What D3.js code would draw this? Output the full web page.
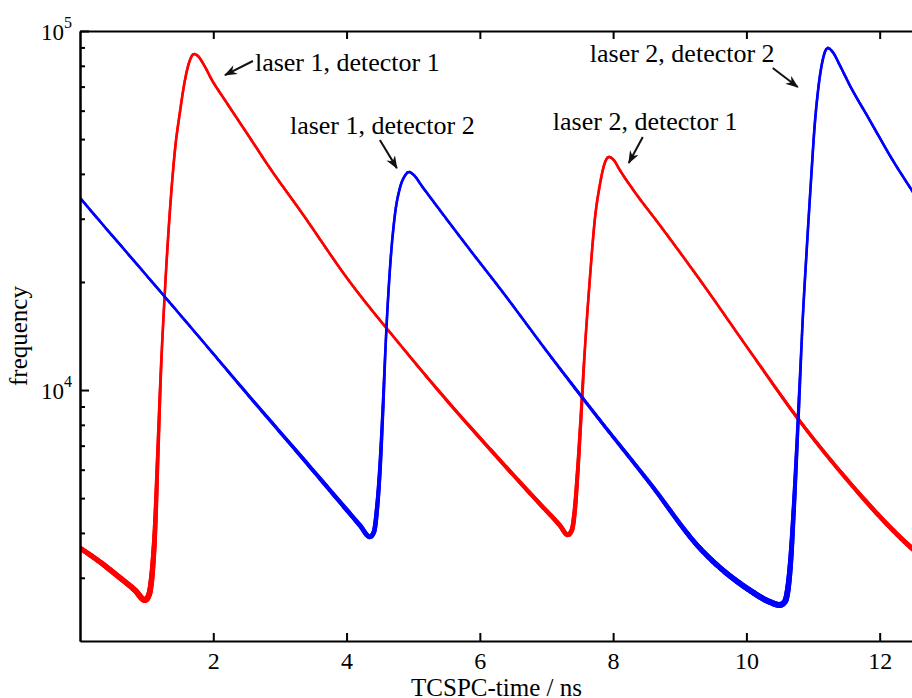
<!DOCTYPE html>
<html>
<head>
<meta charset="utf-8">
<script src="https://cdn.jsdelivr.net/npm/d3@7/dist/d3.min.js"></script>
<style>
  body { margin: 0; background: #fff; }
  svg { display: block; font-family: "Liberation Serif", "Times New Roman", serif; }
</style>
</head>
<body>
<svg id="chart" width="912" height="698"></svg>
<script>
// TCSPC histogram (time in ns, counts)
var redTime = [0, 0.3, 0.6, 0.825, 0.975, 1.035, 1.08, 1.125, 1.17, 1.215, 1.275, 1.35, 1.425, 1.5, 1.575, 1.65, 1.71, 1.77, 1.86, 1.98, 2.175, 2.55, 2.85, 3.3, 4.05, 4.8, 5.55, 6.3, 6.9, 7.2, 7.32, 7.38, 7.425, 7.47, 7.515, 7.575, 7.65, 7.725, 7.8, 7.875, 7.935, 8.01, 8.1, 8.325, 8.7, 9.3, 10.05, 10.8, 11.55, 12.3, 12.5];
var redCounts = [3630, 3320, 3000, 2770, 2600, 2690, 3050, 4070, 6800, 11400, 19000, 31700, 46600, 59500, 73000, 83000, 86300, 85200, 80400, 73000, 64200, 50400, 41500, 31700, 20000, 13400, 9150, 6380, 4820, 4200, 3950, 4070, 4630, 5990, 8250, 12900, 20300, 29800, 37200, 42900, 44600, 43700, 41000, 35600, 28800, 20300, 12850, 8200, 5520, 3900, 3600];

var blueTime = [0, 0.3, 0.75, 1.8, 2.55, 3.3, 3.9, 4.2, 4.35, 4.41, 4.455, 4.5, 4.545, 4.59, 4.65, 4.725, 4.8, 4.875, 4.935, 5.01, 5.13, 5.4, 5.85, 6.3, 7.05, 7.8, 8.55, 9.3, 10.05, 10.35, 10.5, 10.575, 10.62, 10.665, 10.71, 10.755, 10.8, 10.845, 10.905, 10.965, 11.025, 11.085, 11.145, 11.22, 11.295, 11.4, 11.55, 11.85, 12.15, 12.5];
var blueCounts = [34300, 29500, 23600, 13960, 9560, 6590, 4880, 4200, 3900, 4020, 4630, 5990, 8800, 13800, 21600, 30700, 36500, 39500, 40500, 39700, 37000, 31700, 24600, 19200, 12500, 8250, 5510, 3630, 2770, 2570, 2520, 2570, 2770, 3360, 4630, 6800, 10300, 15700, 24600, 37200, 54700, 70700, 83000, 89700, 87400, 80400, 70700, 56500, 45100, 35600];

var xTicks = [2, 4, 6, 8, 10, 12];
var yMajor = [1e4, 1e5];
var yMinor = [3000, 4000, 5000, 6000, 7000, 8000, 9000, 20000, 30000, 40000, 50000, 60000, 70000, 80000, 90000];

var annotations = [
    {label: "laser 1, detector 1", t: 2.625, v: 77400, from: [2.595, 82500], to: [2.175, 75400]},
    {label: "laser 1, detector 2", t: 3.15, v: 51700, from: [4.5, 49700], to: [4.755, 41500]},
    {label: "laser 2, detector 1", t: 7.095, v: 53000, from: [8.445, 50700], to: [8.235, 42900]},
    {label: "laser 2, detector 2", t: 7.65, v: 81950, from: [10.395, 78850], to: [10.77, 69800]}
];

(function() {
    var plotLeft = 80, plotTop = 31, plotRight = 913, plotBottom = 641;

    var svg = d3.select("#chart");

    var x = d3.scaleLinear().domain([0, 12.5]).range([plotLeft, plotRight]);
    var y = d3.scaleLog().domain([2000, 1e5]).range([plotBottom, plotTop]);

    var defs = svg.append("defs");
    defs.append("clipPath").attr("id", "plot")
        .append("rect").attr("x", plotLeft).attr("y", plotTop)
        .attr("width", plotRight - plotLeft).attr("height", plotBottom - plotTop);

    defs.append("marker")
        .attr("id", "head")
        .attr("viewBox", "0 0 13 10")
        .attr("refX", 12).attr("refY", 5)
        .attr("markerWidth", 13).attr("markerHeight", 10)
        .attr("markerUnits", "userSpaceOnUse")
        .attr("orient", "auto")
        .append("path")
        .attr("d", "M0,0 L13,5 L0,10 L4,5 Z")
        .attr("fill", "#111");

    // noisy data looks thicker at low counts
    var bandWidth = function(v) { return Math.max(2.6, 300 / Math.sqrt(v)); };

    var line = d3.line()
        .x(function(d) { return x(d[0]); })
        .y(function(d) { return y(d[1]); })
        .curve(d3.curveMonotoneX);

    var drawSeries = function(times, counts, color) {
        var pts = times.map(function(t, i) { return [t, counts[i]]; });
        // smooth path, then walk along it so the width can follow the counts
        var guide = svg.append("path").attr("d", line(pts)).attr("fill", "none").attr("stroke", "none");
        var node = guide.node();
        var len = node.getTotalLength();
        var samples = [];
        for (var s = 0; s <= len; s += 2) {
            var p = node.getPointAtLength(s);
            samples.push([p.x, p.y]);
        }
        var end = node.getPointAtLength(len);
        samples.push([end.x, end.y]);
        guide.remove();

        svg.append("g")
            .attr("clip-path", "url(#plot)")
            .selectAll("line")
            .data(d3.pairs(samples))
            .enter().append("line")
            .attr("x1", function(d) { return d[0][0]; })
            .attr("y1", function(d) { return d[0][1]; })
            .attr("x2", function(d) { return d[1][0]; })
            .attr("y2", function(d) { return d[1][1]; })
            .attr("stroke", color)
            .attr("stroke-linecap", "round")
            .attr("stroke-width", function(d) { return bandWidth(y.invert((d[0][1] + d[1][1]) / 2)); });
    };

    drawSeries(redTime, redCounts, "#ff0000");
    drawSeries(blueTime, blueCounts, "#0000ff");

    // axes, ticks pointing inward
    var styleAxis = function(g) {
        g.selectAll("path").attr("stroke", "#000").attr("stroke-width", 2);
        g.selectAll("line").attr("stroke", "#000").attr("stroke-width", 2);
    };

    svg.append("g")
        .attr("transform", "translate(0," + plotBottom + ")")
        .call(d3.axisBottom(x).tickValues(xTicks).tickSizeInner(-8).tickSizeOuter(0).tickPadding(11)
            .tickFormat(d3.format("d")))
        .call(styleAxis)
        .call(function(g) {
            g.attr("font-family", null);
            g.selectAll("text").attr("font-size", 24).attr("fill", "#000");
        });

    svg.append("g")
        .attr("transform", "translate(0," + plotTop + ")")
        .call(d3.axisTop(x).tickValues(xTicks).tickSizeInner(-8).tickSizeOuter(0).tickFormat(""))
        .call(styleAxis);

    svg.append("g")
        .attr("transform", "translate(" + plotLeft + ",0)")
        .call(d3.axisLeft(y).tickValues(yMinor).tickSizeInner(-5).tickSizeOuter(0).tickFormat(""))
        .call(styleAxis);

    svg.append("g")
        .attr("transform", "translate(" + plotLeft + ",0)")
        .call(d3.axisLeft(y).tickValues(yMajor).tickSizeInner(-9).tickSizeOuter(0).tickFormat(""))
        .call(styleAxis);

    var yLabels = svg.append("g").selectAll("text")
        .data(yMajor)
        .enter().append("text")
        .attr("x", 72)
        .attr("y", function(d) { return y(d) + 9; })
        .attr("text-anchor", "end")
        .attr("font-size", 23);
    yLabels.append("tspan").text("10");
    yLabels.append("tspan")
        .attr("dy", -12)
        .attr("font-size", 16)
        .text(function(d) { return Math.round(Math.log10(d)); });

    svg.append("text")
        .attr("x", (plotLeft + plotRight) / 2)
        .attr("y", 696)
        .attr("text-anchor", "middle")
        .attr("font-size", 25)
        .text("TCSPC-time / ns");

    svg.append("text")
        .attr("transform", "translate(27," + (plotTop + plotBottom) / 2 + ") rotate(-90)")
        .attr("text-anchor", "middle")
        .attr("font-size", 25)
        .text("frequency");

    // annotations with arrows
    var notes = svg.append("g");
    notes.selectAll("text")
        .data(annotations)
        .enter().append("text")
        .attr("x", function(d) { return x(d.t); })
        .attr("y", function(d) { return y(d.v); })
        .attr("font-size", 26)
        .text(function(d) { return d.label; });

    notes.selectAll("line")
        .data(annotations)
        .enter().append("line")
        .attr("x1", function(d) { return x(d.from[0]); })
        .attr("y1", function(d) { return y(d.from[1]); })
        .attr("x2", function(d) { return x(d.to[0]); })
        .attr("y2", function(d) { return y(d.to[1]); })
        .attr("stroke", "#111")
        .attr("stroke-width", 2)
        .attr("marker-end", "url(#head)");
})();
</script>
</body>
</html>
